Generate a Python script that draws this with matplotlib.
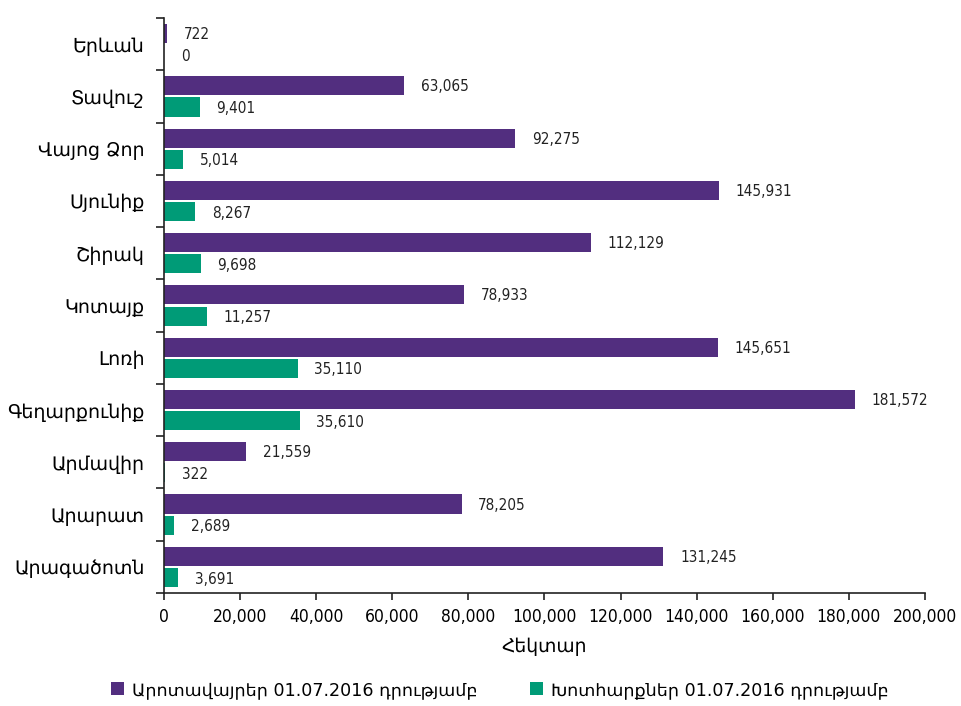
import numpy as np
import matplotlib.pyplot as plt
from matplotlib.ticker import FuncFormatter

plt.rcParams['font.family'] = ['DejaVu Sans']
plt.rcParams['font.stretch'] = 'condensed'

# Տվյալներ (վերևից ներքև)
regions = ['Երևան', 'Տավուշ', 'Վայոց Ձոր', 'Սյունիք', 'Շիրակ', 'Կոտայք',
           'Լոռի', 'Գեղարքունիք', 'Արմավիր', 'Արարատ', 'Արագածոտն']
pastures = [722, 63065, 92275, 145931, 112129, 78933, 145651, 181572, 21559, 78205, 131245]
hayfields = [0, 9401, 5014, 8267, 9698, 11257, 35110, 35610, 322, 2689, 3691]

label_pastures = 'Արոտավայրեր 01.07.2016 դրությամբ'
label_hayfields = 'Խոտհարքներ 01.07.2016 դրությամբ'
xlabel = 'Հեկտար'

purple = '#522E7F'
green = '#009B77'

fig = plt.figure(figsize=(9.62, 7.06), dpi=100)
ax = fig.add_axes([0.1705, 0.160, 0.791, 0.8145])

y = np.arange(len(regions))
h = 0.365
ax.barh(y - h / 2 - 0.02, pastures, height=h, color=purple, label=label_pastures)
ax.barh(y + h / 2 + 0.02, hayfields, height=h, color=green, label=label_hayfields)

for yi, v in zip(y, pastures):
    ax.annotate(f'{v:,}', (v, yi - h / 2), xytext=(12, 0), textcoords='offset points',
                va='center', ha='left', fontsize=11, color='#222222')
for yi, v in zip(y, hayfields):
    ax.annotate(f'{v:,}', (v, yi + h / 2 + 0.05), xytext=(12, 0), textcoords='offset points',
                va='center', ha='left', fontsize=11, color='#222222')

ax.set_ylim(len(regions) - 0.5, -0.5)
ax.set_xlim(0, 200000)
ax.set_xticks(np.arange(0, 200001, 20000))
ax.xaxis.set_major_formatter(FuncFormatter(lambda v, p: f'{int(v):,}'))
ax.set_yticks(y)
ax.set_yticklabels(regions, fontsize=13.7, fontstretch='normal')
ax.set_yticks(np.arange(-0.5, len(regions), 1), minor=True)
ax.tick_params(axis='y', which='major', length=0, pad=14)
ax.tick_params(axis='y', which='minor', length=6, width=1.2, direction='out', color='#222222')
ax.tick_params(axis='x', length=5, width=1.2, labelsize=12.5, pad=6, color='#222222')
ax.set_xlabel(xlabel, fontsize=13.5, fontstretch='normal', labelpad=8)

for s in ['top', 'right']:
    ax.spines[s].set_visible(False)
for s in ['left', 'bottom']:
    ax.spines[s].set_linewidth(1.2)
    ax.spines[s].set_color('#222222')

fig.legend(loc='lower center', bbox_to_anchor=(0.52, -0.012), ncol=2, frameon=False,
           prop={'size': 12.6, 'stretch': 'normal'}, handlelength=0.7, handleheight=0.7,
           handletextpad=0.5, columnspacing=3.0)

fig.savefig('out.png', dpi=100)
